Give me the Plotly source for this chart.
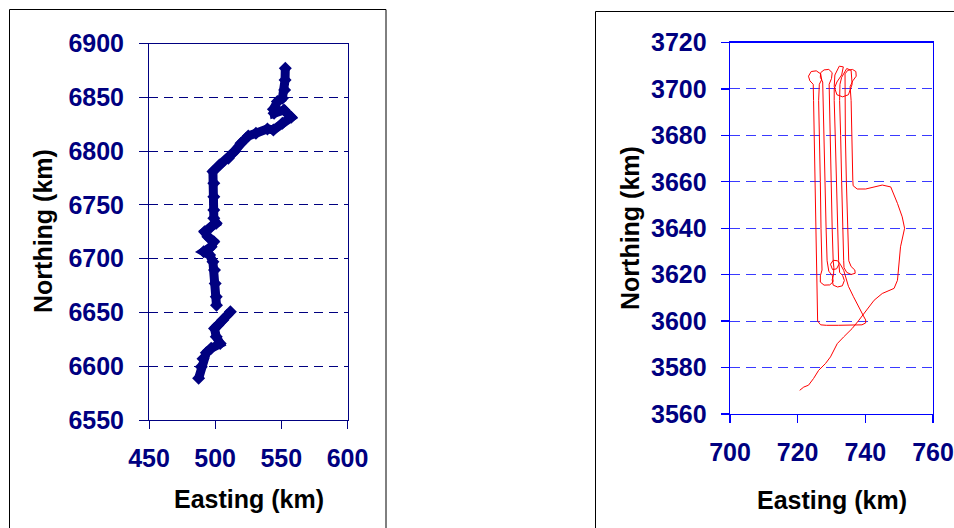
import plotly.graph_objects as go

W, H = 954, 528

# ---------------- data ----------------
# Left panel track (km); None marks the gap in the track
left_easting = [487.5, 489.5, 490.8, 493.3, 497.0, 503.8, 500.8, 499.5, 502.0, 505.8, 511.5, None,
                501.0, 500.8, 500.0, 499.5, 498.3, 495.8, 491.3, 497.0, 499.0, 494.5, 492.0, 497.0,
                500.8, 499.0, 499.0, 499.0, 499.0, 498.3, 503.3, 510.0, 514.5, 519.5, 525.0, 530.8,
                539.5, 544.0, 550.8, 557.5, 552.0, 544.5, 544.0, 547.0, 550.8, 552.5, 552.8, 553.0]
left_northing = [6588.7, 6599.5, 6607.0, 6612.5, 6616.6, 6621.0, 6627.4, 6635.0, 6638.0, 6643.0, 6650.7, None,
                 6656.6, 6664.6, 6677.0, 6689.4, 6697.2, 6703.4, 6706.5, 6711.1, 6715.8, 6720.4, 6725.0, 6729.7,
                 6732.8, 6737.5, 6745.2, 6757.6, 6770.0, 6780.9, 6787.0, 6793.3, 6799.5, 6807.2, 6814.0, 6816.5,
                 6820.6, 6819.6, 6825.8, 6831.4, 6838.2, 6835.1, 6838.8, 6846.0, 6849.0, 6856.8, 6866.0, 6877.0]

# Right panel survey track (km)
right_easting = [
    # transit in and eastern loop
    720.6, 721.8, 723.2, 724.7, 726.2, 728.2, 729.7, 731.7, 733.6, 736.1, 738.1, 739.6, 742.6, 745.0,
    748.5, 749.5, 750.4, 751.6, 750.9, 749.5, 747.5, 745.0, 742.5, 740.1, 737.6, 736.4, 736.3,
    # line 8 up + small top loop
    736.1, 735.8, 735.5, 736.3, 737.3, 737.2, 736.2, 734.8, 734.0, 734.0, 733.9,
    # line 7 down + bottom curl
    734.1, 734.4, 734.7, 735.1, 735.8, 736.9, 737.0, 735.8, 734.5, 733.7,
    # line 6 up + big top loop
    733.6, 733.3, 733.0, 732.7, 732.4, 732.5, 733.0, 734.5, 735.8, 736.1, 735.0, 733.3, 731.6, 730.8,
    731.0, 732.3, 733.5, 733.0, 731.6, 730.8,
    # line 5 down + bottom loop
    730.8, 731.1, 731.4, 731.8, 732.1, 732.4, 733.3, 733.8, 733.2, 731.8, 730.5, 730.2, 730.6, 730.7,
    # line 4 up + top loop
    730.5, 730.2, 729.9, 729.5, 729.2, 729.3, 730.0, 730.2, 729.2, 727.8, 726.8, 726.7, 727.4, 727.5,
    # line 3 down + bottom loop
    727.8, 728.1, 728.4, 728.7, 729.2, 730.3, 730.5, 729.5, 727.8, 726.7, 726.7, 727.2,
    # line 2 up + top loop
    727.1, 726.9, 726.7, 726.4, 726.2, 726.4, 727.1, 726.8, 725.5, 724.0, 723.2, 723.6, 724.6, 724.7,
    # line 1 down, southern box and return leg
    724.9, 725.1, 725.4, 725.6, 725.7, 725.9, 726.8, 728.5, 732.0, 736.0, 739.0, 740.1, 740.1, 739.6,
    738.0, 736.5, 735.0, 733.6, 732.6, 731.8, 730.5, 729.7, 730.3, 731.5, 732.2]
right_northing = [
    3570.2, 3571.6, 3572.4, 3575.3, 3578.8, 3581.7, 3584.6, 3590.3, 3593.2, 3596.8, 3600.4, 3603.3, 3609.0, 3611.9,
    3614.1, 3617.6, 3632.0, 3640.0, 3644.9, 3650.7, 3657.8, 3658.6, 3657.8, 3656.9, 3656.9, 3658.3, 3660.7,
    3682.0, 3695.0, 3701.0, 3703.5, 3705.5, 3707.5, 3708.4, 3708.0, 3706.5, 3704.0, 3700.0,
    3680.0, 3660.0, 3640.0, 3626.0, 3623.5, 3622.0, 3620.6, 3620.1, 3621.0, 3623.0,
    3626.0, 3640.0, 3660.0, 3680.0, 3695.0, 3702.0, 3705.0, 3708.8, 3708.0, 3702.0, 3697.5, 3696.6, 3697.5, 3701.0,
    3706.0, 3709.8, 3709.5, 3706.0, 3703.0, 3700.0,
    3695.0, 3680.0, 3660.0, 3640.0, 3626.0, 3621.0, 3619.6, 3617.5, 3615.2, 3614.7, 3615.5, 3617.8, 3620.0, 3623.0,
    3626.0, 3640.0, 3660.0, 3680.0, 3695.0, 3702.0, 3704.5, 3707.0, 3708.4, 3708.2, 3707.0, 3705.0, 3703.0, 3695.0,
    3680.0, 3660.0, 3640.0, 3626.0, 3621.5, 3619.5, 3617.0, 3615.6, 3615.5, 3616.8, 3619.5, 3622.0,
    3626.0, 3640.0, 3660.0, 3680.0, 3695.0, 3702.0, 3704.0, 3706.5, 3707.8, 3707.5, 3705.5, 3703.5, 3702.0, 3695.0,
    3680.0, 3660.0, 3640.0, 3620.0, 3605.0, 3600.0, 3598.4, 3598.2, 3598.2, 3598.3, 3598.4, 3599.2, 3600.5, 3601.8,
    3606.0, 3610.5, 3615.0, 3621.9, 3624.5, 3626.0, 3626.2, 3624.5, 3622.2, 3622.5, 3624.5]

left_x_ticks = [450, 500, 550, 600]
left_y_ticks = [6550, 6600, 6650, 6700, 6750, 6800, 6850, 6900]
right_x_ticks = [700, 720, 740, 760]
right_y_ticks = [3560, 3580, 3600, 3620, 3640, 3660, 3680, 3700, 3720]

x_title = "Easting (km)"
y_title = "Northing (km)"

# ---------------- figure ----------------
NAVY = "#000080"
BLUE = "#0000FF"
FONT = "Liberation Sans, Arial, sans-serif"


def px_x(v):
    return v / W


def px_y(v):
    return 1 - v / H


fig = go.Figure()
fig.add_trace(go.Scatter(
    x=left_easting, y=left_northing, mode="lines+markers",
    line=dict(color=NAVY, width=9), connectgaps=False,
    marker=dict(symbol="diamond", size=10, color=NAVY),
    xaxis="x", yaxis="y", hoverinfo="skip", cliponaxis=False))
fig.add_trace(go.Scatter(
    x=right_easting, y=right_northing, mode="lines",
    line=dict(color="#FF0000", width=1),
    xaxis="x2", yaxis="y2", hoverinfo="skip"))

tickfont = dict(family=FONT, size=25, color=NAVY, weight="bold")

fig.update_layout(
    width=W, height=H,
    margin=dict(l=0, r=0, t=0, b=0, autoexpand=False),
    paper_bgcolor="white", plot_bgcolor="white",
    showlegend=False,
    xaxis=dict(domain=[px_x(149), px_x(347.5)], range=[450, 600], tickvals=left_x_ticks,
               showgrid=False, zeroline=False, showline=True, linecolor=NAVY, linewidth=1,
               mirror=True, ticks="outside", ticklen=8, tickcolor=NAVY, tickwidth=1,
               tickfont=tickfont, ticklabelstandoff=8, anchor="y", automargin=False),
    yaxis=dict(domain=[px_y(420), px_y(43.5)], range=[6550, 6900], tickvals=left_y_ticks,
               showgrid=True, gridcolor=NAVY, gridwidth=1, griddash="9px,6px",
               zeroline=False, showline=True, linecolor=NAVY, linewidth=1,
               mirror=True, ticks="outside", ticklen=9, tickcolor=NAVY, tickwidth=1,
               tickfont=tickfont, ticklabelstandoff=10, anchor="x", automargin=False),
    xaxis2=dict(domain=[px_x(730), px_x(933)], range=[700, 760], tickvals=right_x_ticks,
                showgrid=False, zeroline=False, showline=True, linecolor=BLUE, linewidth=1.3,
                mirror=True, ticks="outside", ticklen=8, tickcolor=BLUE, tickwidth=1.3,
                tickfont=tickfont, ticklabelstandoff=8, anchor="y2", automargin=False),
    yaxis2=dict(domain=[px_y(414), px_y(42.5)], range=[3560, 3720], tickvals=right_y_ticks,
                showgrid=True, gridcolor="#3A3AFF", gridwidth=1, griddash="10px,6px",
                zeroline=False, showline=True, linecolor=BLUE, linewidth=1.3,
                mirror=True, ticks="outside", ticklen=8, tickcolor=BLUE, tickwidth=1.3,
                tickfont=tickfont, ticklabelstandoff=9, anchor="x2", automargin=False),
)

# outer chart frames
fig.add_shape(type="rect", xref="paper", yref="paper",
              x0=px_x(9.5), x1=px_x(386), y0=px_y(540), y1=px_y(9.5),
              line=dict(color="black", width=1), fillcolor="rgba(0,0,0,0)", layer="below")
fig.add_shape(type="rect", xref="paper", yref="paper",
              x0=px_x(595.5), x1=px_x(970), y0=px_y(540), y1=px_y(11.5),
              line=dict(color="black", width=1), fillcolor="rgba(0,0,0,0)", layer="below")

title_font = dict(family=FONT, size=25, color="black", weight="bold")
for (xc, yc, txt, ang) in [
    (43, 231, y_title, -90), (249, 499, x_title, 0),
    (630, 228, y_title, -90), (832, 500, x_title, 0),
]:
    fig.add_annotation(x=px_x(xc), y=px_y(yc), xref="paper", yref="paper",
                       text=txt, textangle=ang, showarrow=False,
                       xanchor="center", yanchor="middle", font=title_font)

fig.write_html("out.html", config={"displayModeBar": False, "staticPlot": True},
               post_script="document.body.style.margin='0';document.body.style.overflow='hidden';")
